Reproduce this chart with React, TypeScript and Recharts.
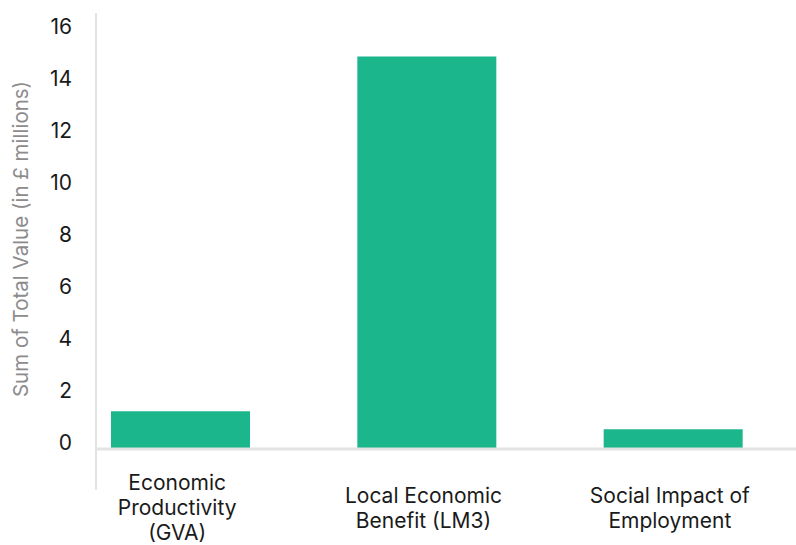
import * as React from 'react'
import { Bar, BarChart, XAxis, YAxis } from 'recharts'

const categories = ['Economic Productivity (GVA)', 'Local Economic Benefit (LM3)', 'Social Impact of Employment']
const categoryLines = [
  ['Economic', 'Productivity', '(GVA)'],
  ['Local Economic', 'Benefit (LM3)'],
  ['Social Impact of', 'Employment'],
]
const totalValues = [1.45, 15.1, 0.76]
const yTicks = [0, 2, 4, 6, 8, 10, 12, 14, 16]

const FONT = 'Inter, "Noto Sans", sans-serif'
const BAR_COLOR = '#1bb68b'
const AXIS_COLOR = '#e3e3e3'

const data = categories.map((name, i) => ({ name, value: totalValues[i] }))

function CategoryTick(props: any) {
  const { x, y, payload } = props
  const idx = categories.indexOf(payload.value)
  const lines = categoryLines[idx] || [payload.value]
  const lineHeight = 25
  // center the block around one baseline
  const first = y + 58 - ((lines.length - 1) * lineHeight) / 2
  return (
    <text x={x - 3} y={first} textAnchor="middle" fill="#1a1a1a" fontSize={21} fontFamily={FONT}>
      {lines.map((line, i) => (
        <tspan key={i} x={x - 3} y={first + i * lineHeight}>
          {line}
        </tspan>
      ))}
    </text>
  )
}

function YTitle(props: any) {
  const { viewBox } = props
  const cx = 20
  const cy = viewBox.y + viewBox.height / 2 - 2
  return (
    <text
      x={cx}
      y={cy}
      transform={`rotate(-90 ${cx} ${cy})`}
      textAnchor="middle"
      dominantBaseline="central"
      fill="#8c8c8c"
      fontSize={20.5}
      fontFamily={FONT}
    >
      Sum of Total Value (in £ millions)
    </text>
  )
}

export default function App() {
  return (
    <div style={{ position: 'absolute', left: 0, top: 0, width: 796, height: 545, background: '#fff' }}>
      {/* vertical axis rule runs past the plot at both ends */}
      <div style={{ position: 'absolute', left: 95, top: 13, width: 2, height: 477, background: AXIS_COLOR }} />
      <BarChart width={796} height={545} data={data} margin={{ top: 33, right: 0, bottom: 0, left: 0 }}>
        <XAxis
          dataKey="name"
          height={96}
          padding={{ left: -39, right: 0 }}
          axisLine={{ stroke: AXIS_COLOR, strokeWidth: 3 }}
          tickLine={false}
          interval={0}
          tick={<CategoryTick />}
        />
        <YAxis
          width={96}
          domain={[0, 16]}
          ticks={yTicks}
          axisLine={false}
          tickLine={false}
          tickMargin={18}
          tick={{ fill: '#1a1a1a', fontSize: 21, fontFamily: FONT, dy: -6 }}
          label={<YTitle />}
        />
        <Bar dataKey="value" fill={BAR_COLOR} barSize={139} isAnimationActive={false} />
      </BarChart>
    </div>
  )
}
